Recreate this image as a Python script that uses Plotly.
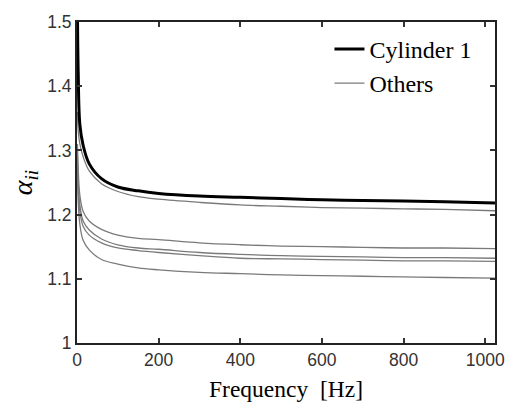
import plotly.graph_objects as go

freq = [1, 3, 7, 15, 30, 60, 100, 150, 200, 300, 400, 500, 600, 700, 800, 900, 1024]

cylinder1 = [1.52, 1.42, 1.34, 1.308, 1.279, 1.256, 1.243, 1.237, 1.233, 1.229, 1.227, 1.225, 1.223, 1.222, 1.221, 1.220, 1.218]

others = [
    [1.36, 1.33, 1.31, 1.29, 1.268, 1.248, 1.236, 1.228, 1.224, 1.219, 1.215, 1.213, 1.211, 1.210, 1.209, 1.208, 1.206],
    [1.31, 1.27, 1.23, 1.205, 1.19, 1.177, 1.168, 1.163, 1.161, 1.156, 1.153, 1.151, 1.150, 1.149, 1.148, 1.148, 1.147],
    [1.30, 1.25, 1.215, 1.19, 1.176, 1.162, 1.153, 1.148, 1.146, 1.141, 1.138, 1.136, 1.135, 1.134, 1.133, 1.133, 1.132],
    [1.29, 1.24, 1.205, 1.182, 1.168, 1.156, 1.148, 1.144, 1.141, 1.136, 1.132, 1.131, 1.130, 1.129, 1.128, 1.128, 1.127],
    [1.28, 1.22, 1.185, 1.16, 1.145, 1.130, 1.123, 1.117, 1.114, 1.110, 1.108, 1.106, 1.105, 1.104, 1.103, 1.102, 1.101],
]

x_ticks = [0, 200, 400, 600, 800, 1000]
y_ticks = [1, 1.1, 1.2, 1.3, 1.4, 1.5]
y_ticktext = ["1", "1.1", "1.2", "1.3", "1.4", "1.5"]

SERIF = "Liberation Serif"

fig = go.Figure()
for i, ys in enumerate(others):
    fig.add_trace(go.Scatter(
        x=freq, y=ys, mode="lines", line=dict(color="#7a7a7a", width=1.3, shape="spline"),
        name="Others", showlegend=(i == 0), legendrank=2,
    ))
fig.add_trace(go.Scatter(
    x=freq, y=cylinder1, mode="lines", line=dict(color="black", width=3, shape="spline"),
    name="Cylinder 1", legendrank=1,
))

tickfont = dict(family="Liberation Sans", size=17.5, color="#333333")
fig.update_layout(
    width=518, height=413,
    margin=dict(l=77, r=23, t=13, b=70),
    plot_bgcolor="white", paper_bgcolor="white",
    showlegend=True,
    legend=dict(x=0.604, y=0.985, xanchor="left", yanchor="top",
                font=dict(family=SERIF, size=24, color="black"),
                bgcolor="rgba(0,0,0,0)", tracegroupgap=0),
    xaxis=dict(range=[0, 1024], tickvals=x_ticks, ticks="inside", ticklen=5, tickwidth=1.5,
               tickcolor="#333", showline=True, linecolor="#222", linewidth=2, mirror="ticks",
               showgrid=False, zeroline=False, tickfont=tickfont,
               title=dict(text="Frequency  [Hz]", standoff=12,
                          font=dict(family=SERIF, size=23.5, color="black"))),
    yaxis=dict(range=[1, 1.5], tickvals=y_ticks, ticktext=y_ticktext,
               ticks="inside", ticklen=5, tickwidth=1.5,
               tickcolor="#333", showline=True, linecolor="#222", linewidth=2, mirror="ticks",
               showgrid=False, zeroline=False, tickfont=tickfont,
               title=dict(text="<i>α<sub>ii</sub></i>", standoff=6,
                          font=dict(family=SERIF, size=28, color="black"))),
)

fig.write_html("out.html")
